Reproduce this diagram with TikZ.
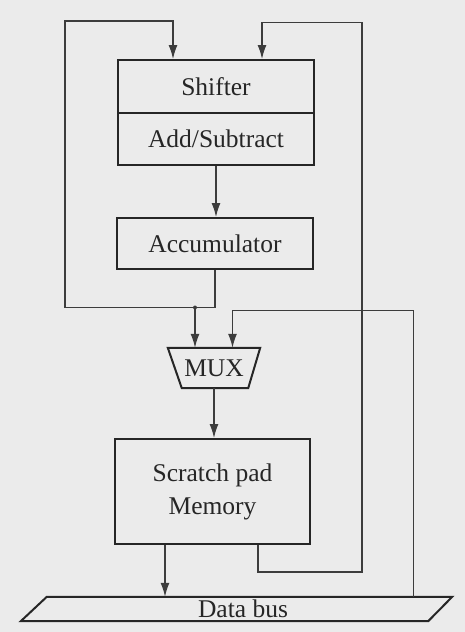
\documentclass[tikz,border=0pt]{standalone}
\usepackage{fontspec}
\setmainfont{Liberation Serif}
\usetikzlibrary{arrows.meta,calc}
\definecolor{paper}{HTML}{EBEBEB}
\definecolor{ink}{HTML}{262626}
\definecolor{wirec}{HTML}{3C3C3C}
\begin{document}
\begin{tikzpicture}[x=1pt,y=-1pt,
  blk/.style={draw=ink, line width=2pt, inner sep=0pt, text=ink, font=\fontsize{25.5}{33}\selectfont},
  outline/.style={draw=ink, line width=2pt, line join=miter},
  lbl/.style={inner sep=0pt, text=ink, font=\fontsize{25.5}{33}\selectfont},
  wire/.style={draw=wirec, line width=1.4pt},
  arr/.style={wire, -{Latex[length=14pt,width=9pt]}}]
\fill[paper] (0,0) rectangle (465,632);
\useasboundingbox (0,0) rectangle (465,632);

% blocks
\node[blk, minimum width=196pt, minimum height=53pt] (sh) at (216,86.5) {Shifter};
\node[blk, minimum width=196pt, minimum height=52pt] (add) at (216,139) {Add/Subtract};
\node[blk, minimum width=196pt, minimum height=51pt] (acc) at (215,243.5) {Accumulator};
\node[blk, minimum width=195pt, minimum height=105pt, align=center] (mem) at (212.5,491.5) {Scratch pad\\Memory};
\node[lbl, minimum width=92pt, minimum height=40pt] (mux) at (214,368) {MUX};
\draw[outline] (mux.north west) -- (mux.north east) -- ([xshift=-12pt]mux.south east) -- ([xshift=14pt]mux.south west) -- cycle;
\node[lbl, minimum width=418pt, minimum height=24pt] (bus) at (243,609) {Data bus};
\draw[outline] ([xshift=13pt]bus.north west) -- (bus.north east) -- ([xshift=-24pt]bus.south east) -- ([xshift=-13pt]bus.south west) -- cycle;

% accumulator feedback loop and MUX input 1
\coordinate (j1) at (195,307.5);
\coordinate (ll) at (65,307.5);
\coordinate (lt) at (65,21);
\coordinate (s1) at (173,21);
\draw[arr] (acc.south) |- (ll) -- (lt) -- (s1) -- (s1 |- sh.north);
\fill[wirec] (j1) circle (2pt);
\draw[arr] (j1) -- (j1 |- mux.north);

% data bus to MUX input 2
\coordinate (r2) at (413.5,310.5);
\coordinate (m2) at (232.5,310.5);
\draw[arr] (r2 |- bus.north) -- (r2) -- (m2) -- (m2 |- mux.north);

% memory feedback loop to shifter
\coordinate (mo) at (258,572);
\coordinate (ro) at (362,572);
\coordinate (rt) at (362,22.5);
\coordinate (s2) at (262,22.5);
\draw[arr] (mo |- mem.south) -- (mo) -- (ro) -- (rt) -- (s2) -- (s2 |- sh.north);

% straight connections
\draw[arr] (add.south) -- (add.south |- acc.north);
\draw[arr] (mux.south) -- (mux.south |- mem.north);
\coordinate (mb) at (165,560);
\draw[arr] (mb |- mem.south) -- (mb |- bus.north);
\end{tikzpicture}
\end{document}
